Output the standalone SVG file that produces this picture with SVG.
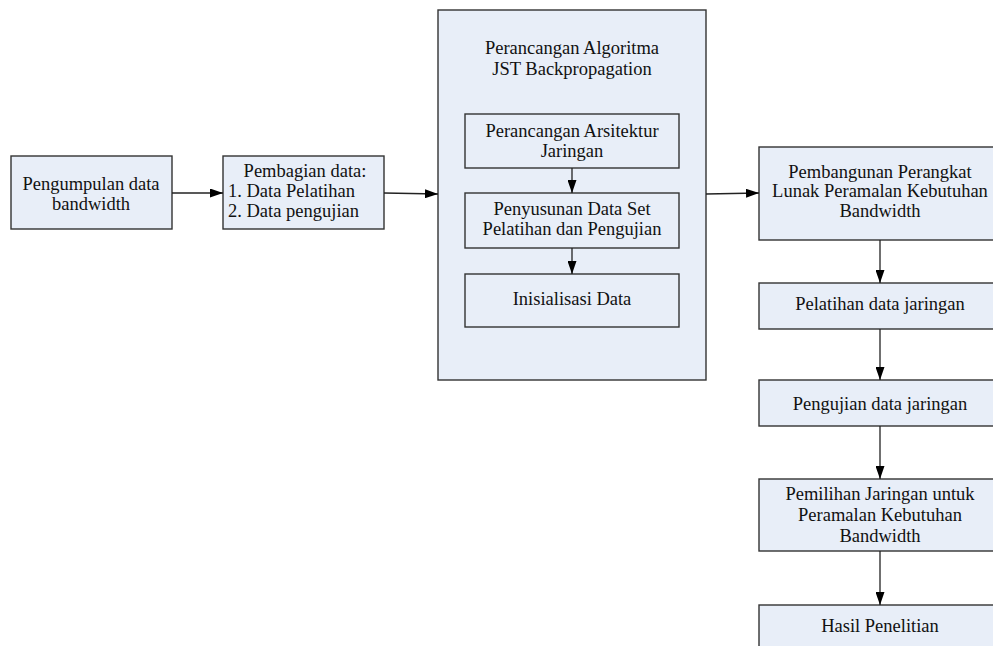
<svg xmlns="http://www.w3.org/2000/svg" width="993" height="646" viewBox="0 0 993 646">
<style>
.box{fill:#e8eef8;stroke:#333;stroke-width:1.4}
.t{font-family:"Liberation Serif","Times New Roman",serif;font-size:18.5px;fill:#111;text-anchor:middle}
.tl{font-family:"Liberation Serif","Times New Roman",serif;font-size:18.5px;fill:#111}
.c{stroke:#222;stroke-width:1.3;fill:none;marker-end:url(#ah)}
</style>
<defs>
<marker id="ah" viewBox="0 0 13 9" refX="13" refY="4.5" markerWidth="13" markerHeight="9" markerUnits="userSpaceOnUse" orient="auto">
<path d="M0,0 L13,4.5 L0,9 Z" fill="#000"/>
</marker>
</defs>
<rect width="993" height="646" fill="#fff"/>
<g id="n1"><rect class="box" x="11" y="156" width="161" height="73"/>
<text class="t" x="91" y="190">Pengumpulan data</text>
<text class="t" x="91" y="210">bandwidth</text></g>
<g id="n2"><rect class="box" x="223" y="156" width="161" height="73"/>
<text class="t" x="305" y="177">Pembagian data:</text>
<text class="tl" x="228" y="197">1. Data Pelatihan</text>
<text class="tl" x="228" y="217">2. Data pengujian</text></g>
<g id="n3"><rect class="box" x="438" y="10" width="268" height="370"/>
<text class="t" x="572" y="54">Perancangan Algoritma</text>
<text class="t" x="572" y="75">JST Backpropagation</text></g>
<g id="n3a"><rect class="box" x="465" y="114" width="214" height="54"/>
<text class="t" x="572" y="137">Perancangan Arsitektur</text>
<text class="t" x="572" y="157">Jaringan</text></g>
<g id="n3b"><rect class="box" x="465" y="193" width="214" height="55"/>
<text class="t" x="572" y="215">Penyusunan Data Set</text>
<text class="t" x="572" y="235">Pelatihan dan Pengujian</text></g>
<g id="n3c"><rect class="box" x="465" y="274" width="214" height="53"/>
<text class="t" x="572" y="305">Inisialisasi Data</text></g>
<g id="n4"><rect class="box" x="759" y="147" width="242" height="93"/>
<text class="t" x="880" y="178">Pembangunan Perangkat</text>
<text class="t" x="880" y="197">Lunak Peramalan Kebutuhan</text>
<text class="t" x="880" y="217">Bandwidth</text></g>
<g id="n5"><rect class="box" x="759" y="283" width="242" height="46"/>
<text class="t" x="880" y="310">Pelatihan data jaringan</text></g>
<g id="n6"><rect class="box" x="759" y="380" width="242" height="46"/>
<text class="t" x="880" y="410">Pengujian data jaringan</text></g>
<g id="n7"><rect class="box" x="759" y="479" width="242" height="72"/>
<text class="t" x="880" y="500">Pemilihan Jaringan untuk</text>
<text class="t" x="880" y="521">Peramalan Kebutuhan</text>
<text class="t" x="880" y="542">Bandwidth</text></g>
<g id="n8"><rect class="box" x="759" y="605" width="242" height="60"/>
<text class="t" x="880" y="632">Hasil Penelitian</text></g>
<g id="connectors">
<line class="c" x1="172" y1="193" x2="223" y2="193"/>
<line class="c" x1="384" y1="193" x2="438" y2="194"/>
<line class="c" x1="706" y1="194" x2="759" y2="193"/>
<line class="c" x1="572" y1="168" x2="572" y2="193"/>
<line class="c" x1="572" y1="248" x2="572" y2="274"/>
<line class="c" x1="880" y1="240" x2="880" y2="283"/>
<line class="c" x1="880" y1="329" x2="880" y2="380"/>
<line class="c" x1="880" y1="426" x2="880" y2="479"/>
<line class="c" x1="880" y1="551" x2="880" y2="605"/>
</g>
</svg>
